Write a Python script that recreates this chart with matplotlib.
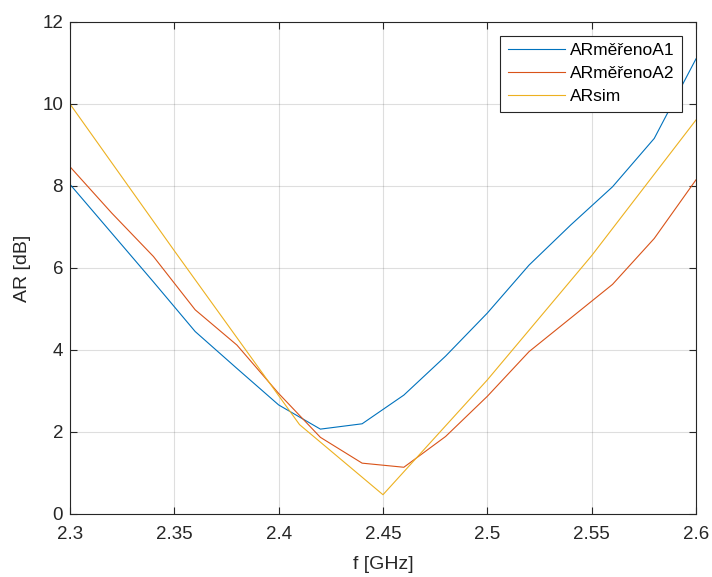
import matplotlib
matplotlib.use('Agg')
import matplotlib.pyplot as plt

# frequency grid of the measurements (GHz)
f_meas = [2.30, 2.32, 2.34, 2.36, 2.38, 2.40, 2.42, 2.44, 2.46, 2.48,
          2.50, 2.52, 2.54, 2.56, 2.58, 2.60]
ar_a1 = [8.04, 6.85, 5.66, 4.45, 3.55, 2.66, 2.07, 2.20, 2.90, 3.85,
         4.90, 6.07, 7.05, 7.98, 9.16, 11.1]
ar_a2 = [8.47, 7.34, 6.28, 4.98, 4.12, 2.94, 1.87, 1.24, 1.14, 1.89,
         2.87, 3.96, 4.78, 5.60, 6.72, 8.15]

# simulation
f_sim = [2.30, 2.35, 2.41, 2.45, 2.50, 2.55, 2.60]
ar_sim = [10.0, 6.42, 2.18, 0.47, 3.27, 6.30, 9.61]

labels = ['ARměřenoA1', 'ARměřenoA2', 'ARsim']
colors = ['#0072BD', '#D95319', '#EDB120']

plt.rcParams['font.family'] = ['Liberation Sans', 'DejaVu Sans']

fig = plt.figure(figsize=(7.12, 5.77), dpi=100)
ax = fig.add_axes([0.0983, 0.1092, 0.8792, 0.8527])

ax.plot(f_meas, ar_a1, color=colors[0], lw=0.8, label=labels[0])
ax.plot(f_meas, ar_a2, color=colors[1], lw=0.8, label=labels[1])
ax.plot(f_sim, ar_sim, color=colors[2], lw=0.8, label=labels[2])

ax.set_xlim(2.3, 2.6)
ax.set_ylim(0, 12)
ax.set_xticks([2.3, 2.35, 2.4, 2.45, 2.5, 2.55, 2.6])
ax.set_xticklabels(['2.3', '2.35', '2.4', '2.45', '2.5', '2.55', '2.6'])
ax.set_yticks(range(0, 13, 2))

ax.grid(True, color='#262626', alpha=0.15, lw=0.8)
ax.tick_params(direction='in', top=True, right=True, length=5,
               labelsize=13.5, colors='#262626', width=0.8)
ax.tick_params(axis='x', pad=9)
ax.tick_params(axis='y', pad=5)
for s in ax.spines.values():
    s.set_color('#262626')
    s.set_linewidth(0.8)

ax.set_xlabel('f [GHz]', fontsize=14, color='#262626', labelpad=9)
ax.set_ylabel('AR [dB]', fontsize=14, color='#262626', labelpad=8)

leg = ax.legend(loc='upper right', bbox_to_anchor=(0.978, 0.9715),
                fontsize=12.5, fancybox=False, framealpha=1,
                edgecolor='#262626', borderpad=0.42, handlelength=3.3,
                labelspacing=0.45, handletextpad=0.3, borderaxespad=0)
leg.get_frame().set_linewidth(0.8)

fig.savefig('out.png', dpi=100)
